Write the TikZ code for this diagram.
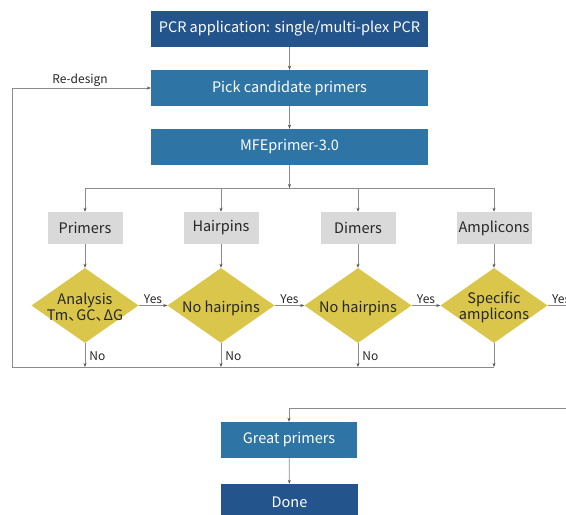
\documentclass[tikz,border=0pt]{standalone}
\usepackage{fontspec}
\setmainfont{Noto Sans CJK SC}
\usetikzlibrary{shapes.geometric,arrows.meta}
\definecolor{darkblue}{HTML}{23548B}
\definecolor{midblue}{HTML}{2E74A5}
\definecolor{boxgray}{HTML}{D9D9D9}
\definecolor{diamondyellow}{HTML}{D9C64A}
\definecolor{linegray}{HTML}{8C8C8C}
\definecolor{txtdark}{HTML}{262626}
\tikzset{
  bluebox/.style={rectangle, fill=midblue, text=white, minimum height=36pt, inner sep=0pt, font=\fontsize{14.5}{17}\selectfont},
  darkbox/.style={bluebox, fill=darkblue},
  graybox/.style={rectangle, fill=boxgray, text=txtdark, minimum width=75pt, minimum height=32pt, inner sep=0pt, font=\fontsize{14.5}{17}\selectfont},
  decision/.style={diamond, fill=diamondyellow, minimum width=107pt, minimum height=75pt, inner sep=0pt},
  dtext/.style={text=txtdark, align=center, font=\fontsize{14.5}{17}\selectfont},
  lbl/.style={text=txtdark, font=\fontsize{12}{14}\selectfont, inner sep=1pt},
  nolbl/.style={lbl, right, xshift=3pt},
  conn/.style={draw=linegray, line width=0.7pt},
  arr/.style={conn, -{Stealth[length=4pt,width=3pt,color=txtdark!80]}},
}
\begin{document}
\begin{tikzpicture}[x=1pt,y=-1pt]
\useasboundingbox (0,0) rectangle (566,515);
\clip (0,0) rectangle (566,515);
% main column
\node[darkbox, minimum width=277pt] (app) at (289.5,29) {PCR application: single/multi-plex PCR};
\node[bluebox, minimum width=277pt] (pick) at (289.5,88) {Pick candidate primers};
\node[bluebox, minimum width=277pt] (mfe) at (289.5,147) {MFEprimer-3.0};
% gray boxes
\node[graybox] (g1) at (85,228) {Primers};
\node[graybox] (g2) at (221,228) {Hairpins};
\node[graybox] (g3) at (358,228) {Dimers};
\node[graybox] (g4) at (494,228) {Amplicons};
% decisions
\node[decision] (d1) at (85,305.5) {};
\node[decision] (d2) at (221,305.5) {};
\node[decision] (d3) at (358,305.5) {};
\node[decision] (d4) at (494,305.5) {};
\node[dtext] (t1) at (85,307.5) {Analysis\\[-1pt]Tm、\kern-0.45em GC、\kern-0.45em ΔG};
\node[dtext] (t2) at (221,308) {No hairpins};
\node[dtext] (t3) at (358,308) {No hairpins};
\node[dtext] (t4) at (494,307.5) {Specific\\[-1pt]amplicons};
% bottom boxes
\node[bluebox, minimum width=136pt] (great) at (289,440) {Great primers};
\node[darkbox, minimum width=137pt] (done) at (289.5,502) {Done};
% coordinates
\coordinate (split) at (289.5,188);
\coordinate (s1) at (85,188);
\coordinate (s4) at (494,188);
\coordinate (b0) at (12,367);
\coordinate (b1) at (85,367);
\coordinate (b2) at (221,367);
\coordinate (b3) at (358,367);
\coordinate (b4) at (494,367);
\coordinate (rd) at (12,88);
\coordinate (yesend) at (570,305.5);
\coordinate (gin) at (570,408);
\coordinate (gcorner) at (289,408);
% connectors
\draw[arr] (app) -- (pick);
\draw[arr] (pick) -- (mfe);
\draw[arr] (mfe.south) -- (split);
\draw[conn] (s1) -- (s4);
\draw[arr] (s1) -- (g1);
\draw[arr] (g2 |- split) -- (g2);
\draw[arr] (g3 |- split) -- (g3);
\draw[arr] (s4) -- (g4);
\draw[arr] (g1) -- (d1);
\draw[arr] (g2) -- (d2);
\draw[arr] (g3) -- (d3);
\draw[arr] (g4) -- (d4);
\draw[arr] (d1.east) -- node[lbl, above] {Yes} (d2.west);
\draw[arr] (d2.east) -- node[lbl, above] {Yes} (d3.west);
\draw[arr] (d3.east) -- node[lbl, above] {Yes} (d4.west);
\draw[conn] (d4.east) -- node[lbl, above, pos=0.6] {Yes} (yesend);
\draw[arr] (d1.south) -- node[nolbl, pos=0.55] {No} (b1);
\draw[arr] (d2.south) -- node[nolbl, pos=0.55] {No} (b2);
\draw[arr] (d3.south) -- node[nolbl, pos=0.55] {No} (b3);
\draw[arr] (d4.south) -- (b4);
\draw[conn] (b4) -- (b0);
\draw[arr] (b0) -- (rd) -- node[lbl, above, pos=0.49] {Re-design} (pick.west);
\draw[arr] (gin) -- (gcorner) -- (great.north);
\draw[arr] (great) -- (done);
\end{tikzpicture}
\end{document}
